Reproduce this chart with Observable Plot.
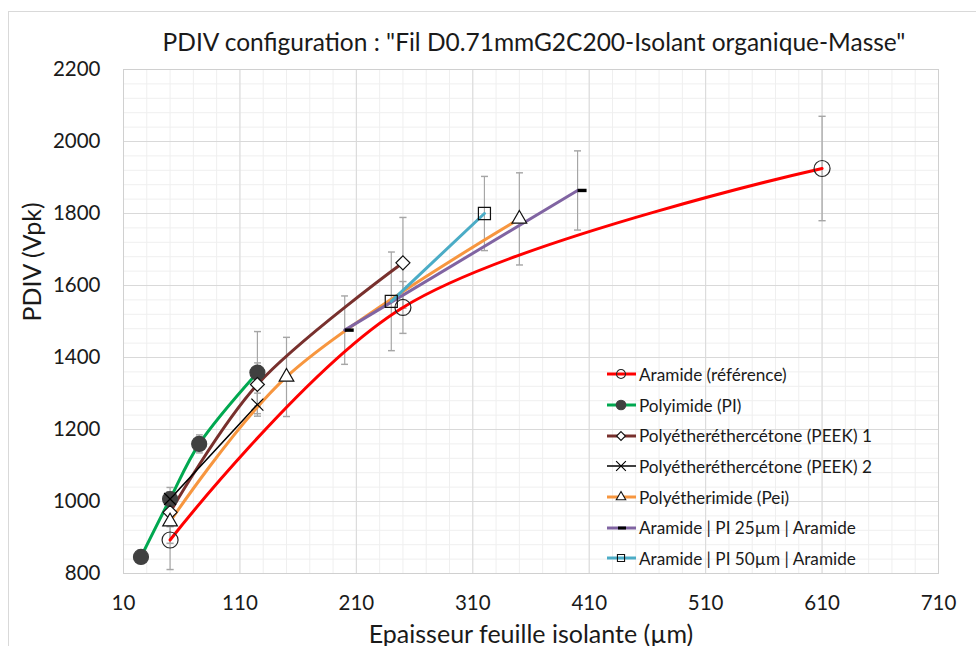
<!DOCTYPE html>
<html><head><meta charset="utf-8">
<script src="https://cdn.jsdelivr.net/npm/d3@7"></script>
<script src="https://cdn.jsdelivr.net/npm/@observablehq/plot@0.6"></script>
<style>
body{margin:0;background:#fff;font-family:Lato,"Open Sans",sans-serif;color:#1a1a1a;}
#wrap{position:relative;width:976px;height:646px;overflow:hidden;}
#border{position:absolute;left:8px;top:11px;width:1200px;height:1200px;border:1px solid #d9d9d9;box-sizing:border-box;}
#title{position:absolute;left:134px;width:800px;top:27px;text-align:center;font-size:24.5px;line-height:30px;white-space:nowrap;}
#chart{position:absolute;left:0;top:0;}
#legend{position:absolute;left:605px;top:359px;}
.row{display:flex;align-items:center;height:30.7px;font-size:17.2px;white-space:nowrap;}
.row svg{display:block;}
</style></head>
<body><div id="wrap"><div id="border"></div><div id="chart"></div><div id="title"></div><div id="legend"></div></div>
<script>
// ---- data ----
const titleText = 'PDIV configuration : "Fil D0.71mmG2C200-Isolant organique-Masse"';
const xTitle = "Epaisseur feuille isolante (µm)";
const yTitle = "PDIV (Vpk)";
const xTicks = [10, 110, 210, 310, 410, 510, 610, 710];
const yTicks = [800, 1000, 1200, 1400, 1600, 1800, 2000, 2200];

const seriesNames = ["Aramide (référence)", "Polyimide (PI)", "Polyétheréthercétone (PEEK) 1",
  "Polyétheréthercétone (PEEK) 2", "Polyétherimide (Pei)", "Aramide | PI 25µm | Aramide", "Aramide | PI 50µm | Aramide"];

const aramideX = [50, 250, 610];
const aramideY = [893, 1539, 1925];
const aramideErr = [82, 72, 145];

const piX = [25, 50, 75, 125];
const piY = [846, 1007, 1160, 1358];
const piErr = [0, 32, 25, 114];

const peek1X = [50, 125, 250];
const peek1Y = [970, 1325, 1663];
const peek1Err = [40, 60, 126];

const peek2X = [50, 125];
const peek2Y = [1007, 1269];
const peek2Err = [20, 32];

const peiX = [50, 150, 350];
const peiY = [944, 1346, 1785];
const peiErr = [60, 110, 128];

const pi25X = [200, 400];
const pi25Y = [1476, 1864];
const pi25Err = [95, 110];

const pi50X = [240, 320];
const pi50Y = [1556, 1800];
const pi50Err = [137, 103];

// ---- styles ----
const dash = {draw(ctx){ ctx.moveTo(0,-1.7); ctx.lineTo(9,-1.7); ctx.lineTo(9,1.7); ctx.lineTo(0,1.7); ctx.closePath(); }};
const legendDash = {draw(ctx){ ctx.moveTo(-3,-1.5); ctx.lineTo(5,-1.5); ctx.lineTo(5,1.5); ctx.lineTo(-3,1.5); ctx.closePath(); }};
const cfg = [
  {xs: aramideX, ys: aramideY, es: aramideErr, color: "#ff0000", w: 3, symbol: "circle", r: 8, fill: "none", stroke: "#262626", lr: 4.5},
  {xs: piX, ys: piY, es: piErr, color: "#00a850", w: 3, symbol: "circle", r: 7.5, fill: "#404040", stroke: "#404040", lr: 4.8},
  {xs: peek1X, ys: peek1Y, es: peek1Err, color: "#78302d", w: 3, symbol: "diamond2", r: 6.3, fill: "white", stroke: "#111", lr: 4},
  {xs: peek2X, ys: peek2Y, es: peek2Err, color: "#000000", w: 1.6, symbol: "times", r: 5.5, fill: "none", stroke: "#000", lr: 4.5},
  {xs: peiX, ys: peiY, es: peiErr, color: "#f7963f", w: 3, symbol: "triangle2", r: 7, fill: "white", stroke: "#111", lr: 4.5},
  {xs: pi25X, ys: pi25Y, es: pi25Err, color: "#8064a2", w: 3, symbol: dash, r: 5, fill: "#000", stroke: "none", lsym: legendDash, lr: 5},
  {xs: pi50X, ys: pi50Y, es: pi50Err, color: "#4bacc6", w: 3, symbol: "square", r: 6.8, fill: "none", stroke: "#111", lr: 4}
];
const tables = cfg.map((c, i) => c.xs.map((x, j) => ({series: seriesNames[i], x, y: c.ys[j], e: c.es[j]})));
const allPts = tables.flat().filter(d => d.e > 0);

const marks = [
  Plot.gridX(d3.range(10, 711, 20), {stroke: "#efefef", strokeOpacity: 1}),
  Plot.gridY(d3.range(800, 2201, 40), {stroke: "#efefef", strokeOpacity: 1}),
  Plot.gridX(xTicks, {stroke: "#d9d9d9", strokeOpacity: 1}),
  Plot.gridY(yTicks, {stroke: "#d9d9d9", strokeOpacity: 1}),
  Plot.frame({stroke: "#d0d0d0"}),
  Plot.axisX(xTicks, {tickSize: 0, tickPadding: 22, fontSize: 20.5, label: null, fill: "#1a1a1a", tickFormat: d => String(d)}),
  Plot.axisY(yTicks, {tickSize: 0, tickPadding: 23, fontSize: 20.5, label: null, fill: "#1a1a1a", tickFormat: d => String(d)}),
  Plot.text([xTitle], {frameAnchor: "bottom", dy: 69, fontSize: 25, text: d => d, fill: "#1a1a1a"}),
  Plot.text([yTitle], {frameAnchor: "left", dx: -91, rotate: -90, fontSize: 25, text: d => d, fill: "#1a1a1a"}),
  Plot.link(allPts, {x1: "x", x2: "x", y1: d => d.y - d.e, y2: d => d.y + d.e, stroke: "#a6a6a6", strokeWidth: 1.2, markerStart: "tick", markerEnd: "tick"})
];
cfg.forEach((c, i) => {
  marks.push(Plot.line(tables[i], {x: "x", y: "y", stroke: c.color, strokeWidth: c.w, curve: i === 3 ? "linear" : "catmull-rom"}));
});
cfg.forEach((c, i) => {
  marks.push(Plot.dot(tables[i], {x: "x", y: "y", symbol: c.symbol, r: c.r, fill: c.fill, stroke: c.stroke, strokeWidth: 1.2}));
});

const chart = Plot.plot({
  width: 976, height: 646,
  marginLeft: 123, marginRight: 38, marginTop: 69, marginBottom: 73,
  style: {fontFamily: "Lato, 'Open Sans', sans-serif", background: "transparent", overflow: "visible"},
  x: {domain: [10, 710], axis: null},
  y: {domain: [800, 2200], axis: null},
  marks
});
document.getElementById("chart").appendChild(chart);
document.getElementById("title").textContent = titleText;

// legend
const leg = d3.select("#legend");
cfg.forEach((c, i) => {
  const row = leg.append("div").attr("class", "row");
  const svg = row.append("svg").attr("width", 34).attr("height", 16);
  svg.append("line").attr("x1", 2).attr("x2", 31).attr("y1", 8).attr("y2", 8).attr("stroke", c.color).attr("stroke-width", c.w === 3 ? 3 : 1.5);
  const symType = typeof c.symbol === "string" ? {circle: d3.symbolCircle, diamond2: d3.symbolDiamond2, times: d3.symbolTimes, triangle2: d3.symbolTriangle2, square: d3.symbolSquare}[c.symbol] : c.lsym;
  svg.append("path").attr("transform", "translate(16,8)")
    .attr("d", d3.symbol(symType, Math.PI * c.lr * c.lr)())
    .attr("fill", c.fill).attr("stroke", c.stroke).attr("stroke-width", 1.1);
  row.append("span").text(seriesNames[i]);
});
</script></body></html>
